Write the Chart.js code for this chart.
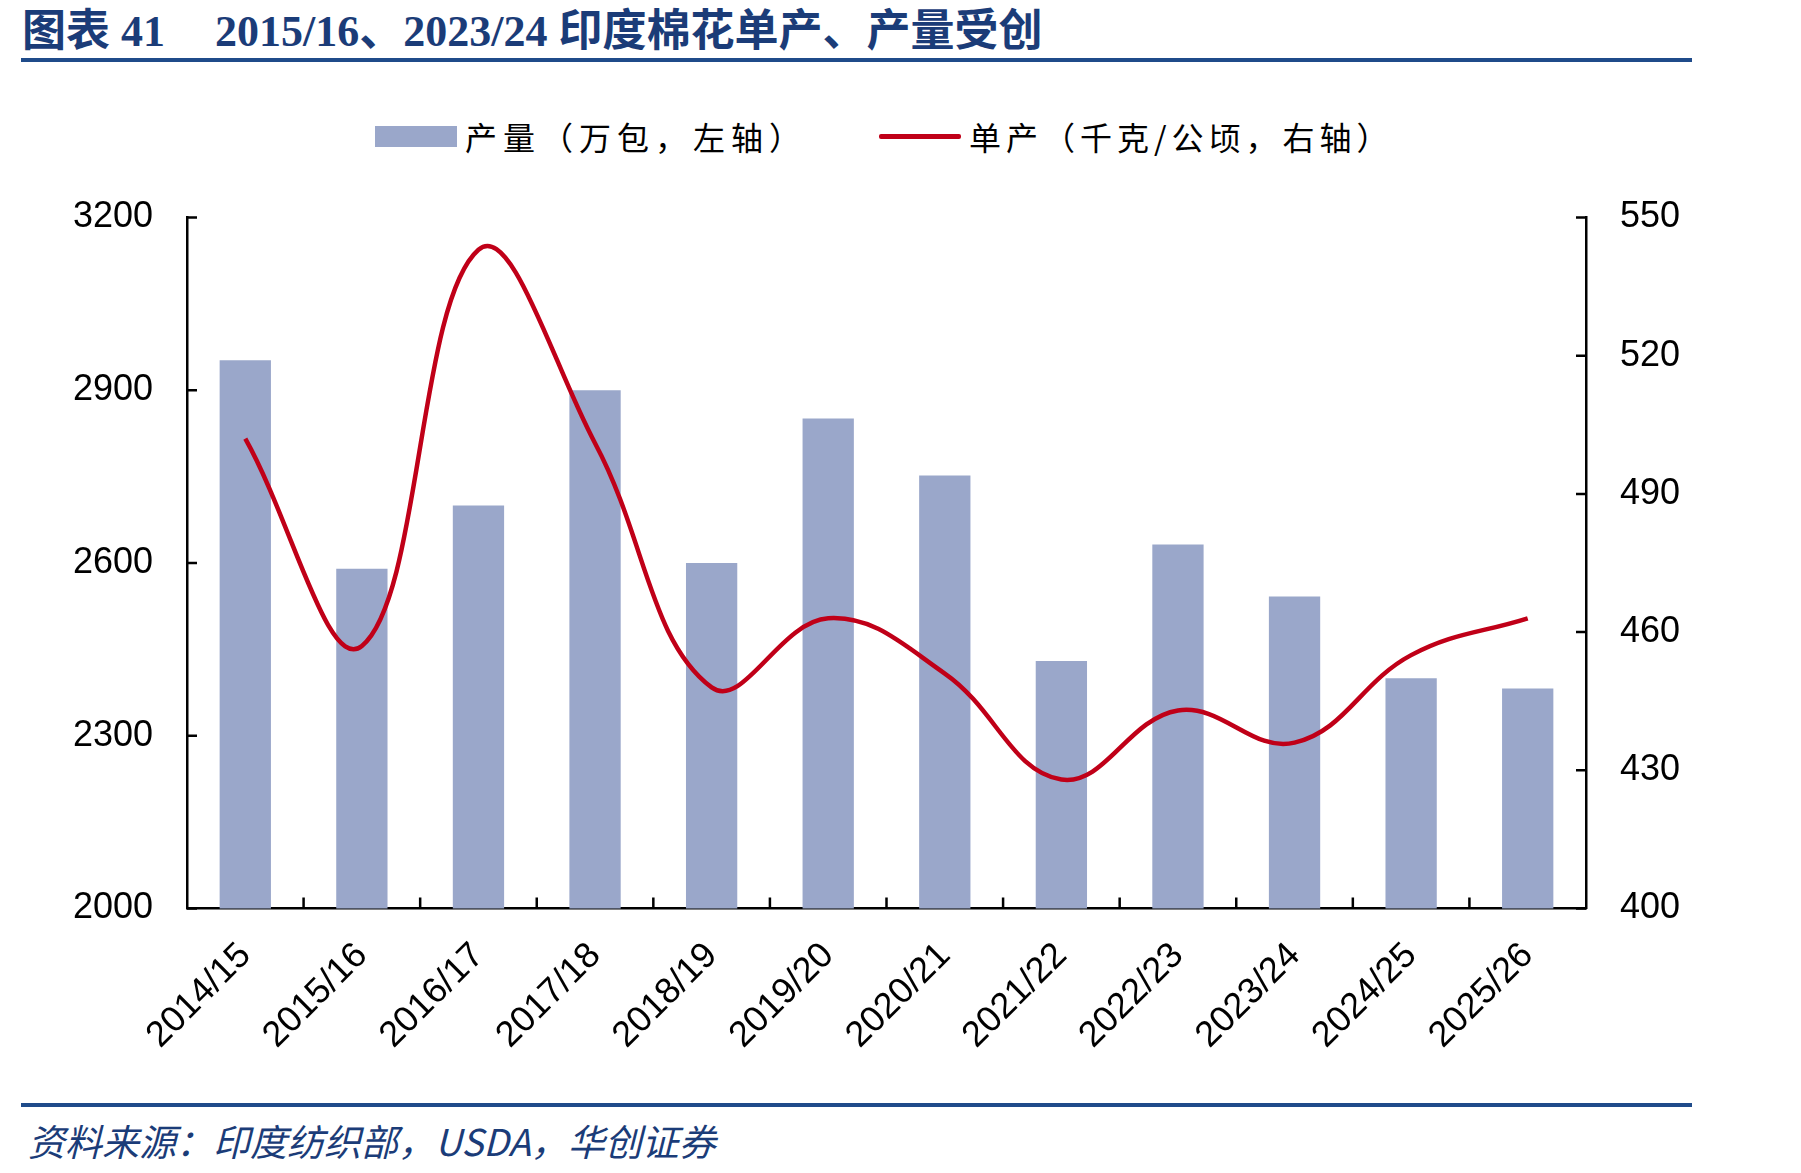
<!DOCTYPE html>
<html lang="zh-CN">
<head>
    <meta charset="UTF-8">
    <title>印度棉花单产、产量</title>
    <script src="https://cdn.jsdelivr.net/npm/chart.js"></script>
    <style>
        body {
            margin: 0;
            width: 1801px;
            height: 1173px;
            background: #ffffff;
            position: relative;
            overflow: hidden;
            font-family: "Noto Sans CJK SC", sans-serif;
        }

        .title {
            position: absolute;
            left: 22px;
            top: -5px;
            font-family: "Liberation Serif", "Noto Sans CJK SC", serif;
            font-weight: bold;
            font-size: 44px;
            color: #1b3c78;
            white-space: nowrap;
        }

        .title .num { margin-right: 50px; }

        .rule {
            position: absolute;
            left: 21px;
            width: 1671px;
            height: 4px;
            background: #1f4b8a;
        }

        .legend {
            position: absolute;
            left: 375px;
            top: 113px;
            display: flex;
            align-items: center;
            font-size: 32px;
            letter-spacing: 6px;
            color: #000;
            white-space: nowrap;
        }

        .legend .item { display: flex; align-items: center; margin-right: 72px; }
        .legend .swatch { width: 82px; margin-right: 8px; }
        .legend .item.line { letter-spacing: 5px; }

        .chart-box {
            position: absolute;
            left: 0;
            top: 150px;
            width: 1801px;
            height: 940px;
        }

        .source {
            position: absolute;
            left: 28px;
            top: 1113px;
            font-style: italic;
            font-size: 37px;
            color: #1b3c78;
            white-space: nowrap;
        }
    </style>
</head>
<body>

    <div class="title"><span class="num">图表 41</span>2015/16、2023/24 印度棉花单产、产量受创</div>
    <div class="rule" style="top:58px"></div>

    <div class="legend" id="legend"></div>

    <div class="chart-box">
        <canvas id="cottonChart"></canvas>
    </div>

    <div class="rule" style="top:1103px"></div>
    <div class="source">资料来源：印度纺织部，USDA，华创证券</div>

    <script>
        // data
        var seasons = ['2014/15', '2015/16', '2016/17', '2017/18', '2018/19', '2019/20',
                       '2020/21', '2021/22', '2022/23', '2023/24', '2024/25', '2025/26'];
        var production = [2952, 2590, 2700, 2900, 2600, 2851, 2752, 2430, 2632, 2542, 2400, 2382];
        var yieldPerHa = [502, 457, 543, 501, 448, 463, 451, 428, 443, 436, 455, 463];
        var seriesNames = ['产量（万包，左轴）', '单产（千克/公顷，右轴）'];

        var barColor = '#9aa7ca';
        var lineColor = '#c00018';

        // html legend
        var legend = document.getElementById('legend');
        legend.innerHTML =
            '<div class="item"><div class="swatch" style="height:21px;background:' + barColor + '"></div>' + seriesNames[0] + '</div>' +
            '<div class="item line"><div class="swatch" style="height:5px;border-radius:2px;background:' + lineColor + '"></div>' + seriesNames[1] + '</div>';

        // short inward tick marks like the original
        var innerTicks = {
            id: 'innerTicks',
            afterDraw: function(chart) {
                var ctx = chart.ctx;
                var area = chart.chartArea;
                var x = chart.scales.x, y = chart.scales.y, y1 = chart.scales.y1;
                ctx.save();
                ctx.strokeStyle = '#000';
                ctx.lineWidth = 2.5;
                ctx.beginPath();
                y.ticks.forEach(function(t) {
                    var p = y.getPixelForValue(t.value);
                    ctx.moveTo(area.left, p);
                    ctx.lineTo(area.left + 10, p);
                });
                y1.ticks.forEach(function(t) {
                    var p = y1.getPixelForValue(t.value);
                    ctx.moveTo(area.right, p);
                    ctx.lineTo(area.right - 10, p);
                });
                for (var i = 1; i < seasons.length; i++) {
                    var p = (x.getPixelForValue(i - 1) + x.getPixelForValue(i)) / 2;
                    ctx.moveTo(p, area.bottom);
                    ctx.lineTo(p, area.bottom - 11);
                }
                ctx.stroke();
                ctx.restore();
            }
        };

        var tickFont = { family: '"Liberation Sans", Arial, sans-serif', size: 36 };
        var plainNumber = function(v) { return String(v); };

        new Chart(document.getElementById('cottonChart'), {
            type: 'bar',
            data: {
                labels: seasons,
                datasets: [{
                    type: 'line',
                    label: seriesNames[1],
                    data: yieldPerHa,
                    yAxisID: 'y1',
                    borderColor: lineColor,
                    borderWidth: 4.5,
                    pointRadius: 0,
                    tension: 0.4,
                    fill: false,
                    order: 1
                }, {
                    label: seriesNames[0],
                    data: production,
                    yAxisID: 'y',
                    backgroundColor: barColor,
                    borderWidth: 0,
                    categoryPercentage: 1,
                    barPercentage: 0.44,
                    order: 2
                }]
            },
            options: {
                responsive: true,
                maintainAspectRatio: false,
                animation: false,
                layout: { padding: { top: 67.5, left: 0, right: 0, bottom: 0 } },
                plugins: {
                    legend: { display: false },
                    tooltip: { enabled: false }
                },
                scales: {
                    x: {
                        offset: true,
                        grid: { display: false, drawTicks: false },
                        border: { display: true, color: '#000', width: 2.5 },
                        ticks: {
                            color: '#000',
                            font: tickFont,
                            minRotation: 45,
                            maxRotation: 45,
                            autoSkip: false,
                            padding: 26
                        },
                        afterFit: function(s) { s.height = 181.5; }
                    },
                    y: {
                        position: 'left',
                        min: 2000,
                        max: 3200,
                        grid: { display: false, drawTicks: false },
                        border: { display: true, color: '#000', width: 2.5 },
                        ticks: { stepSize: 300, color: '#000', font: tickFont, padding: 34, callback: plainNumber },
                        afterFit: function(s) { s.width = 187; }
                    },
                    y1: {
                        position: 'right',
                        min: 400,
                        max: 550,
                        grid: { display: false, drawTicks: false },
                        border: { display: true, color: '#000', width: 2.5 },
                        ticks: { stepSize: 30, color: '#000', font: tickFont, padding: 34, callback: plainNumber },
                        afterFit: function(s) { s.width = 215; }
                    }
                }
            },
            plugins: [innerTicks]
        });
    </script>
</body>
</html>
